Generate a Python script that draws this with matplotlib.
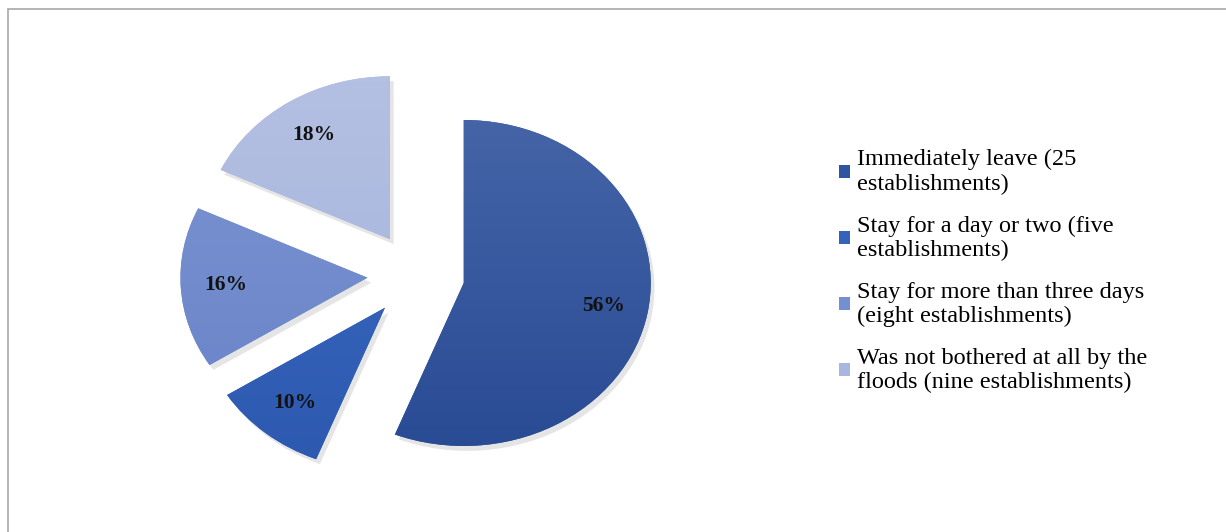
import numpy as np
import matplotlib
matplotlib.use('Agg')
import matplotlib.pyplot as plt
import matplotlib.patches as mpatches
from matplotlib.colors import LinearSegmentedColormap

# ----------------------------------------------------------------
# Data
# ----------------------------------------------------------------
labels = [
    'Immediately leave (25\nestablishments)',
    'Stay for a day or two (five\nestablishments)',
    'Stay for more than three days\n(eight establishments)',
    'Was not bothered at all by the\nfloods (nine establishments)',
]
shares = [56, 10, 16, 18]

# top / bottom shade of each slice (Excel style gradient)
top_colors = ['#4D6BAD', '#4270C6', '#7E97D3', '#B6C2E3']
bot_colors = ['#234690', '#2A56AE', '#6580C6', '#9FAFDB']
legend_colors = ['#2F55A0', '#3563BC', '#7590D0', '#A9B7DF']

SERIF = ['Liberation Serif', 'DejaVu Serif']

fig = plt.figure(figsize=(12.26, 5.32), dpi=100)
fig.patch.set_facecolor('white')

# outer chart border
fig.add_artist(mpatches.Rectangle(
    (8 / 1226, -0.05), 1.1, (532 - 9) / 532 + 0.05,
    transform=fig.transFigure, facecolor='none',
    edgecolor='#A8A8A8', linewidth=1.2))

# axes sized so the pie comes out slightly wider than tall
ax = fig.add_axes([0.1105, 0.0235, 0.4576, 0.919])

wedges, texts, autotexts = ax.pie(
    shares,
    explode=[0.26] * len(shares),
    startangle=90,
    counterclock=False,
    radius=1.0,
    autopct='%d%%',
    pctdistance=0.76,
    colors=legend_colors,
    wedgeprops=dict(linewidth=0),
    textprops=dict(fontsize=15.5, fontweight='bold', family=SERIF,
                   color='#111111'),
)
ax.set_aspect('auto')
ax.set_xlim(-1.5, 1.5)
ax.set_ylim(-1.5, 1.5)
ax.axis('off')

# soft shadow + vertical gradient fill clipped to each wedge
grad = np.linspace(0, 1, 256).reshape(-1, 1)
for w, c0, c1 in zip(wedges, top_colors, bot_colors):
    sh = mpatches.Wedge((w.center[0] + 0.02, w.center[1] - 0.03), w.r,
                        w.theta1, w.theta2, facecolor='#000000',
                        alpha=0.10, linewidth=0, zorder=0.5)
    ax.add_patch(sh)
    cmap = LinearSegmentedColormap.from_list('g', [c0, c1])
    im = ax.imshow(grad, cmap=cmap, extent=(-1.5, 1.5, -1.5, 1.5),
                   aspect='auto', zorder=1.5, interpolation='bilinear')
    im.set_clip_path(w)
    w.set_zorder(1)
for t in autotexts:
    t.set_zorder(3)

# legend
handles = [mpatches.Patch(facecolor=c, edgecolor='none') for c in legend_colors]
leg = fig.legend(
    handles, labels,
    loc='upper left',
    bbox_to_anchor=(827 / 1226, 1 - 137 / 532),
    frameon=False,
    borderpad=0,
    prop=dict(family=SERIF, size=17.5),
    handlelength=0.45, handleheight=0.45, handletextpad=0.3,
    labelspacing=0.85,
)
for t in leg.get_texts():
    t.set_linespacing(1.2)

fig.savefig('out.png', dpi=100, facecolor='white')
